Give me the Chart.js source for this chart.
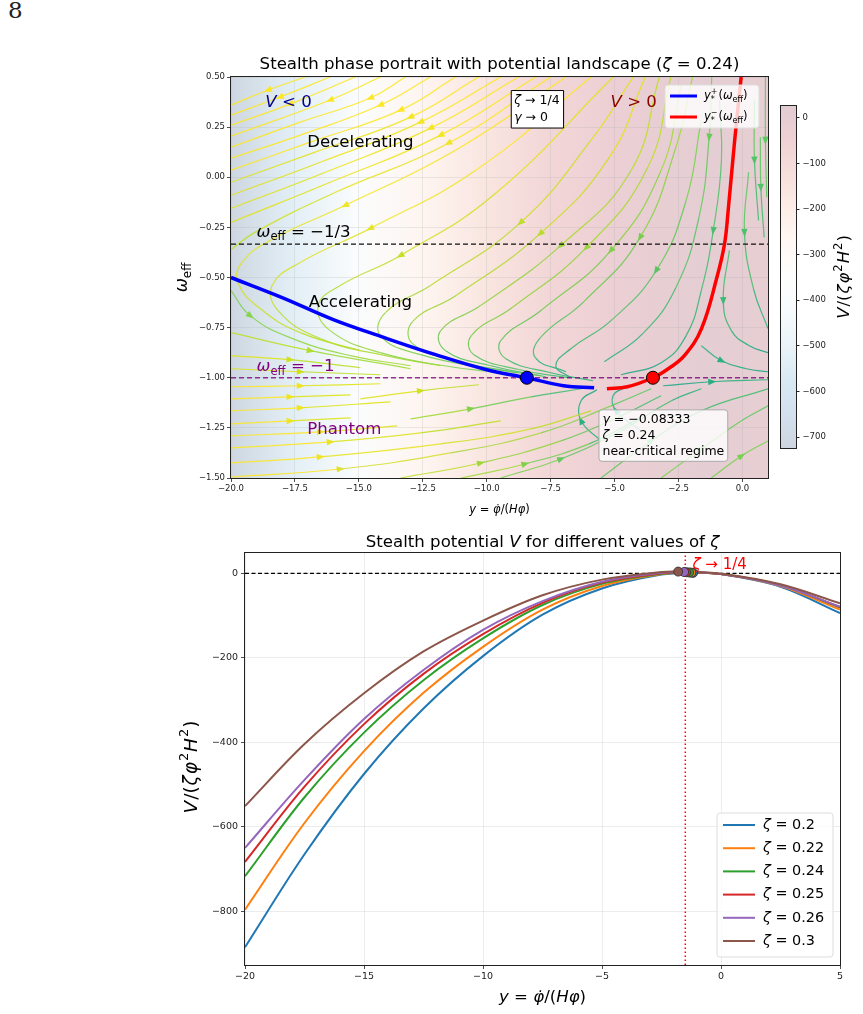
<!DOCTYPE html>
<html>
<head>
<meta charset="utf-8">
<script src="https://cdn.jsdelivr.net/npm/chart.js@4.4.1/dist/chart.umd.min.js"></script>
<style>
  body { margin: 0; width: 863px; height: 1014px; background: #fff; position: relative; overflow: hidden; }
  canvas { position: absolute; }
  #page { position: absolute; left: 8px; top: -3px; font: 23px "DejaVu Serif", "Liberation Serif", serif; color: #222; }
</style>
</head>
<body>
<div id="page">8</div>
<canvas id="phase" width="863" height="530" style="left:0;top:0"></canvas>
<canvas id="cbar" width="93" height="365" style="left:770px;top:95px"></canvas>
<canvas id="pot" width="863" height="484" style="left:0;top:530px"></canvas>
<script>
Chart.defaults.font.family = '"DejaVu Sans", Verdana, sans-serif'
Chart.defaults.color = '#222'

// ---- lower panel: V/(zeta phi^2 H^2)
const yGrid = [-20, -17.5, -15, -12.5, -10, -7.5, -5, -2.5, 0, 2.5, 5]
const zetas = [0.2, 0.22, 0.24, 0.25, 0.26, 0.3]
const V_020 = [-885, -665, -475, -320, -196, -98, -36, -3, -2, -32, -94]
const V_022 = [-796, -591, -421, -283, -174, -86, -30, -2, -2, -30, -86]
const V_024 = [-717, -530, -377, -253, -154, -75, -25, -1, -2, -28, -81]
const V_025 = [-683, -505, -357, -238, -144, -70, -22, 0, -2, -28, -80]
const V_026 = [-650, -489, -345, -229, -134, -66, -20, 1, -2, -29, -79]
const V_030 = [-551, -404, -284, -185, -112, -52, -15, 3, -1, -26, -71]
// maxima of each curve (the marked dots)
const peakY = [-1.17, -1.25, -1.34, -1.46, -1.55, -1.8]
const peakV = [1, 1.5, 2, 2.5, 3, 4]
const yCritical = -1.5
const potTicks = [-800, -600, -400, -200, 0]

// ---- upper panel
const blueY = [-20, -18, -16, -14, -12, -10, -8.43, -7, -5.8]
const blueW = [-0.5, -0.6, -0.71, -0.8, -0.885, -0.96, -1.0, -1.04, -1.05]
const redY = [-5.3, -4.5, -3.5, -2.9, -2.27, -1.6, -1.0, -0.7, -0.55, -0.31, -0.05]
const redW = [-1.055, -1.045, -1.0, -0.955, -0.89, -0.755, -0.5, -0.333, -0.155, 0.175, 0.5]
const fixedBlue = [-8.43, -1.0]
const fixedRed = [-3.5, -1.0]
const cbMin = -724, cbMax = 26
const cbTicks = [-700, -600, -500, -400, -300, -200, -100, 0]

// streamlines, [y, w_eff] in flow order
const upperArms = [
  [[-17.1, 0.5], [-18.55, 0.435], [-20, 0.36]],
  [[-16.12, 0.5], [-18.08, 0.4], [-20, 0.31]],
  [[-15.14, 0.5], [-17.69, 0.365], [-20, 0.26]],
  [[-14.16, 0.5], [-16.12, 0.385], [-20, 0.205]],
  [[-13.18, 0.5], [-14.55, 0.395], [-17.29, 0.275], [-20, 0.15]],
  [[-12.2, 0.5], [-14.16, 0.36], [-17.29, 0.21], [-20, 0.095]],
  [[-11.22, 0.5], [-13.37, 0.335], [-16.9, 0.175], [-20, 0.035]],
  [[-10.31, 0.5], [-12.98, 0.3], [-16.71, 0.125], [-20, -0.025]],
  [[-9.45, 0.5], [-12.59, 0.275], [-16.51, 0.075], [-20, -0.09]],
  [[-8.75, 0.5], [-12.2, 0.245], [-16.31, 0.025], [-20, -0.155]],
  [[-8.08, 0.5], [-11.8, 0.21], [-16.12, -0.025], [-20, -0.225]],
  [[-7.5, 0.5], [-11.5, 0.17], [-16.0, -0.08], [-19.0, -0.27], [-20, -0.36]]
]
const hairpins = [
  [[-6.9, 0.5], [-11.22, 0.135], [-15.53, -0.14], [-18.47, -0.315], [-19.57, -0.425], [-19.73, -0.525], [-18.86, -0.655], [-17.29, -0.775], [-14.94, -0.865]],
  [[-5.92, 0.5], [-10.43, 0.035], [-14.55, -0.255], [-17.29, -0.425], [-18.39, -0.54], [-18.16, -0.665], [-16.51, -0.805], [-13.76, -0.895], [-11.8, -0.94]],
  [[-5.06, 0.5], [-9.65, -0.08], [-13.37, -0.39], [-15.73, -0.54], [-16.59, -0.64], [-16.12, -0.765], [-14.16, -0.875], [-11.41, -0.945], [-9.45, -0.975]],
  [[-4.27, 0.5], [-5.92, 0.185], [-8.67, -0.225], [-12.2, -0.54], [-13.96, -0.675], [-14.16, -0.79], [-12.59, -0.885], [-9.84, -0.955], [-7.88, -0.99]],
  [[-3.8, 0.5], [-5.2, 0.1], [-7.9, -0.28], [-11.2, -0.59], [-12.9, -0.72], [-12.9, -0.83], [-11.2, -0.915], [-8.8, -0.975]],
  [[-3.25, 0.5], [-4.35, 0.035], [-7.1, -0.34], [-10.24, -0.64], [-11.8, -0.765], [-11.61, -0.865], [-9.84, -0.94], [-7.69, -0.995]],
  [[-2.8, 0.5], [-3.7, 0.05], [-6.1, -0.35], [-9.0, -0.65], [-10.6, -0.79], [-10.5, -0.885], [-8.7, -0.96], [-6.8, -1.0]],
  [[-2.39, 0.46], [-3.18, 0.035], [-5.14, -0.365], [-7.88, -0.665], [-9.45, -0.815], [-9.25, -0.905], [-7.49, -0.975], [-5.84, -1.015]],
  [[-1.95, 0.5], [-2.6, 0.15], [-4.0, -0.3], [-6.2, -0.62], [-7.9, -0.8], [-8.1, -0.9], [-6.9, -0.97]],
  [[-1.61, 0.285], [-2.2, -0.115], [-3.37, -0.465], [-5.14, -0.715], [-6.71, -0.855], [-7.3, -0.94], [-6.71, -1.0]]
]
const redSide = [
  [[-1.2, 0.5], [-1.3, 0.2], [-1.7, -0.2], [-2.6, -0.55], [-3.9, -0.78], [-5.4, -0.92]],
  [[-0.9, 0.385], [-0.82, 0.085], [-1.14, -0.265], [-1.61, -0.565], [-2.2, -0.79], [-3.18, -0.925], [-4.75, -0.985]],
  [[0.9, 0.5], [0.9, 0.185], [0.95, -0.1]],
  [[0.47, 0.385], [0.47, 0.085], [0.63, -0.215]],
  [[0.7, 0.2], [0.72, -0.05], [0.85, -0.3]],
  [[0.24, 0.025], [0.08, -0.275], [0.43, -0.555], [1.0, -0.755]],
  [[-0.51, -0.365], [-0.75, -0.615], [-0.43, -0.765], [0.27, -0.84], [1.0, -0.875]],
  [[-1.61, -0.84], [-0.82, -0.915], [0.16, -0.955], [1.0, -0.97]]
]
const leftArms = [
  [[-20, -0.565], [-19.25, -0.69], [-17.69, -0.8], [-15.33, -0.89], [-12.98, -0.94]],
  [[-20, -0.775], [-16.9, -0.865], [-12.98, -0.955]],
  [[-20, -0.89], [-17.69, -0.91], [-14.94, -0.95]],
  [[-20, -0.955], [-17.29, -0.97], [-14.16, -0.985]]
]
const phantomLines = [
  [[-20, -1.045], [-17.29, -1.04], [-14.16, -1.03]],
  [[-20, -1.105], [-17.69, -1.095], [-15.33, -1.085]],
  [[-20, -1.165], [-17.29, -1.15], [-13.76, -1.12]],
  [[-20, -1.23], [-17.69, -1.215], [-15.33, -1.2]],
  [[-20, -1.29], [-16.5, -1.27], [-13.5, -1.24]],
  [[-20, -1.35], [-16.12, -1.32], [-12.59, -1.275], [-9.45, -1.215]],
  [[-20, -1.425], [-16.51, -1.395], [-11.8, -1.33], [-8.27, -1.255], [-5.92, -1.165]],
  [[-20, -1.495], [-15.73, -1.455], [-11.41, -1.375], [-7.88, -1.275], [-5.14, -1.14], [-3.57, -1.055]],
  [[-14.94, -1.105], [-12.59, -1.065], [-10.31, -1.035]],
  [[-13.37, -1.5], [-10.24, -1.425], [-7.1, -1.315], [-4.75, -1.19], [-3.18, -1.09]],
  [[-12.98, -1.205], [-10.63, -1.155], [-8.27, -1.095], [-6.31, -1.055]],
  [[-11.0, -1.5], [-8.5, -1.43], [-6.0, -1.33], [-4.0, -1.2]],
  [[-9.45, -1.5], [-7.1, -1.405], [-4.75, -1.265], [-2.78, -1.115], [-1.61, -1.055]]
]
const lowerRight = [
  [[-5.53, -1.5], [-3.57, -1.315], [-1.61, -1.165], [1.0, -1.055]],
  [[-3.18, -1.5], [-1.61, -1.355], [-0.04, -1.215], [1.0, -1.14]],
  [[-1.22, -1.5], [-0.04, -1.39], [1.0, -1.315]],
  [[-3.1, -1.04], [-1.2, -1.02], [1.0, -1.01]],
  [[-3.96, -1.265], [-4.94, -1.165], [-5.06, -1.09], [-4.55, -1.045]],
  [[-5.53, -1.315], [-6.31, -1.215], [-6.31, -1.115], [-5.69, -1.06]]
]

// viridis samples used for the stream colours
const vir = { 100: '#fde725', 95: '#dfe318', 90: '#bddf26', 85: '#a0da39', 80: '#7ad151', 75: '#5ec962', 70: '#44bf70', 65: '#2fb47c', 60: '#22a884' }
const upperCols = [[100, 100], [100, 100], [100, 100], [100, 100], [100, 100], [100, 100], [100, 100], [100, 95], [100, 95], [100, 95], [100, 95], [100, 90]]
const hairCols = [[100, 90], [100, 85], [95, 80], [95, 75], [95, 75], [90, 70], [90, 70], [85, 65], [85, 65], [80, 60]]
const redSideCols = [[80, 65], [75, 60], [75, 75], [75, 70], [75, 70], [75, 65], [70, 60], [65, 60]]
const leftCols = [[80, 85], [90, 85], [95, 90], [95, 90]]
const phantomCols = [[100, 95], [100, 95], [100, 95], [100, 95], [100, 95], [100, 90], [100, 90], [100, 75], [95, 90], [90, 70], [85, 70], [85, 70], [80, 65]]
const lowerCols = [[75, 70], [80, 75], [80, 80], [60, 65], [65, 60], [65, 60]]

const rdbu = ['#053061', '#2166ac', '#4393c3', '#92c5de', '#d1e5f0', '#f7f7f7', '#fddbc7', '#f4a582', '#d6604d', '#b2182b', '#67001f']

function hexRgb(h) {
  const n = parseInt(h.slice(1), 16)
  return [n >> 16, (n >> 8) & 255, n & 255]
}
function mix(a, b, f, alpha = 0.9) {
  const p = hexRgb(a), q = hexRgb(b)
  return `rgba(${p.map((u, k) => Math.round(u + (q[k] - u) * f)).join(',')},${alpha})`
}
// RdBu_r at alpha 0.2 over white
function potColor(v) {
  let t = Math.min(1, Math.max(0, (v - cbMin) / (cbMax - cbMin))) * 10
  const i = Math.min(9, Math.floor(t)), f = t - i
  const a = hexRgb(rdbu[i]), b = hexRgb(rdbu[i + 1])
  const c = a.map((u, k) => Math.round(255 * 0.8 + 0.2 * (u + (b[k] - u) * f)))
  return `rgb(${c.join(',')})`
}
const minus = s => String(s).replace('-', '\u2212')

// small mathtext-like writer: italics, sub/superscripts, optional extra gap between parts
function richText(ctx, parts, x, y, size, color, align = 'left', rot = 0, gap = 0) {
  const font = p => `${p.it ? 'italic ' : ''}${(p.sub || p.sup) ? size * 0.7 : size}px "DejaVu Sans"`
  let w = 0
  parts.forEach(p => { ctx.font = font(p); if (!p.keep) w += ctx.measureText(p.t).width + gap })
  w -= gap
  ctx.save()
  ctx.translate(x, y)
  ctx.rotate(rot)
  let cx = align === 'center' ? -w / 2 : align === 'right' ? -w : 0
  ctx.fillStyle = color
  ctx.textBaseline = 'middle'
  parts.forEach(p => {
    ctx.font = font(p)
    const dy = p.sub ? size * 0.3 : p.sup ? -size * 0.38 : 0
    ctx.fillText(p.t, cx, dy)
    if (!p.keep) cx += ctx.measureText(p.t).width + gap
  })
  ctx.restore()
  return w
}
function textBox(ctx, lines, x, y, size, lineH, pad, fill, stroke, round) {
  let w = 0
  lines.forEach(l => {
    let lw = 0
    l.forEach(p => { ctx.font = `${p.it ? 'italic ' : ''}${size}px "DejaVu Sans"`; lw += ctx.measureText(p.t).width })
    w = Math.max(w, lw)
  })
  const bw = w + 2 * pad, bh = lines.length * lineH + pad
  ctx.save()
  ctx.beginPath()
  if (round) ctx.roundRect(x, y, bw, bh, 3); else ctx.rect(x + 0.5, y + 0.5, bw, bh)
  ctx.fillStyle = fill
  ctx.fill()
  ctx.lineWidth = 1
  ctx.strokeStyle = stroke
  ctx.stroke()
  ctx.restore()
  lines.forEach((l, i) => richText(ctx, l, x + pad, y + pad / 2 + lineH * (i + 0.5), size, '#000'))
}

// ---------------- upper panel datasets
const phaseSets = []
function addStreams(lines, cols) {
  lines.forEach((pts, i) => {
    const ca = vir[cols[i][0]], cb = vir[cols[i][1]]
    const n = pts.length
    const m = Math.max(1, Math.floor((n - 1) / 3))
    phaseSets.push({
      data: pts.map(([x, y]) => ({ x, y })),
      showLine: true, pointRadius: 0, borderWidth: 1.2, tension: 0.45,
      borderColor: mix(ca, cb, 0),
      segment: { borderColor: s => mix(ca, cb, s.p0DataIndex / Math.max(1, n - 2)) },
      arrowAt: m, arrowColor: mix(ca, cb, m / (n - 1), 1),
      order: 10
    })
  })
}
addStreams(upperArms, upperCols)
addStreams(hairpins, hairCols)
addStreams(redSide, redSideCols)
addStreams(leftArms, leftCols)
addStreams(phantomLines, phantomCols)
addStreams(lowerRight, lowerCols)

phaseSets.push(
  { data: [{ x: -20, y: -1 / 3 }, { x: 1, y: -1 / 3 }], showLine: true, pointRadius: 0, borderColor: '#111', borderWidth: 1.4, borderDash: [5, 3], order: 5 },
  { data: [{ x: -20, y: -1 }, { x: 1, y: -1 }], showLine: true, pointRadius: 0, borderColor: 'rgba(128,0,128,0.8)', borderWidth: 1.4, borderDash: [5, 3], order: 5 },
  { data: blueY.map((x, i) => ({ x, y: blueW[i] })), showLine: true, pointRadius: 0, borderColor: '#0000ff', borderWidth: 3.5, tension: 0.4, order: 2 },
  { data: redY.map((x, i) => ({ x, y: redW[i] })), showLine: true, pointRadius: 0, borderColor: '#ff0000', borderWidth: 3.5, tension: 0.4, order: 2 },
  { data: [{ x: fixedBlue[0], y: fixedBlue[1] }], pointRadius: 6.5, backgroundColor: '#0000ff', borderColor: '#000', borderWidth: 1, order: 0 },
  { data: [{ x: fixedRed[0], y: fixedRed[1] }], pointRadius: 6.5, backgroundColor: '#ff0000', borderColor: '#000', borderWidth: 1, order: 0 }
)

const phaseDecor = {
  id: 'phaseDecor',
  beforeDraw(chart) {
    const { ctx, chartArea: a, scales: { x } } = chart
    const g = ctx.createLinearGradient(a.left, 0, a.right, 0)
    const pts = yGrid.map((yv, i) => [yv, V_024[i]]).concat([[peakY[2], peakV[2]]]).sort((p, q) => p[0] - q[0])
    pts.forEach(([yv, v]) => {
      const t = (x.getPixelForValue(yv) - a.left) / (a.right - a.left)
      if (t >= 0 && t <= 1) g.addColorStop(t, potColor(v))
    })
    ctx.save()
    ctx.fillStyle = g
    ctx.fillRect(a.left, a.top, a.right - a.left, a.bottom - a.top)
    ctx.restore()
  },
  afterDatasetDraw(chart, { index, meta }) {
    const ds = chart.data.datasets[index]
    if (!ds.arrowAt) return
    const p = meta.data, m = ds.arrowAt
    const a = p[m - 1], b = p[m + 1], c = p[m]
    const ang = Math.atan2(b.y - a.y, b.x - a.x)
    const ctx = chart.ctx
    ctx.save()
    ctx.translate(c.x, c.y)
    ctx.rotate(ang)
    ctx.beginPath()
    ctx.moveTo(4.5, 0)
    ctx.lineTo(-3.5, 3.2)
    ctx.lineTo(-3.5, -3.2)
    ctx.closePath()
    ctx.fillStyle = ds.arrowColor
    ctx.fill()
    ctx.restore()
  },
  afterDatasetsDraw(chart) {
    const { ctx, chartArea: a, scales: { x, y } } = chart
    const X = v => x.getPixelForValue(v), Y = v => y.getPixelForValue(v)
    const fs = 16.6
    richText(ctx, [{ t: 'V', it: 1 }, { t: ' < 0' }], X(-17.75), Y(0.37), fs, '#00008b', 'center')
    richText(ctx, [{ t: 'V', it: 1 }, { t: ' > 0' }], X(-4.25), Y(0.37), fs, '#8b0000', 'center')
    richText(ctx, [{ t: 'Decelerating' }], X(-14.94), Y(0.17), fs, '#000', 'center')
    richText(ctx, [{ t: 'Accelerating' }], X(-14.94), Y(-0.625), fs, '#000', 'center')
    richText(ctx, [{ t: 'Phantom' }], X(-15.57), Y(-1.26), fs, '#800080', 'center')
    richText(ctx, [{ t: 'ω', it: 1 }, { t: 'eff', sub: 1 }, { t: ' = \u22121/3' }], X(-19.0), Y(-0.275), fs, '#000')
    richText(ctx, [{ t: 'ω', it: 1 }, { t: 'eff', sub: 1 }, { t: ' = \u22121' }], X(-19.0), Y(-0.945), fs, '#800080')

    textBox(ctx, [[{ t: 'ζ', it: 1 }, { t: ' \u2192 1/4' }], [{ t: 'γ', it: 1 }, { t: ' \u2192 0' }]],
      X(-9.06), Y(0.435), 12.5, 17, 3.5, '#fff', '#000', false)
    textBox(ctx, [[{ t: 'γ', it: 1 }, { t: ' = \u22120.08333' }], [{ t: 'ζ', it: 1 }, { t: ' = 0.24' }], [{ t: 'near-critical regime' }]],
      X(-5.61), Y(-1.16), 12.5, 16, 3.5, 'rgba(255,255,255,0.8)', '#aaa', true)

    // legend
    const lx = a.right - 103, ly = a.top + 8
    ctx.save()
    ctx.beginPath()
    ctx.roundRect(lx, ly, 94, 43, 3)
    ctx.fillStyle = 'rgba(255,255,255,0.8)'
    ctx.fill()
    ctx.strokeStyle = '#ddd'
    ctx.stroke()
    ;[['#0000ff', '+'], ['#ff0000', '\u2212']].forEach(([col, sg], i) => {
      const yy = ly + 11 + i * 21
      ctx.beginPath()
      ctx.moveTo(lx + 5, yy)
      ctx.lineTo(lx + 32, yy)
      ctx.strokeStyle = col
      ctx.lineWidth = 3
      ctx.stroke()
      richText(ctx, [{ t: 'y', it: 1 }, { t: sg, sup: 1, keep: 1 }, { t: '*', sub: 1 }, { t: ' (' }, { t: 'ω', it: 1 }, { t: 'eff', sub: 1 }, { t: ')' }],
        lx + 39, yy, 11.5, '#000')
    })
    ctx.restore()

    // frame, titles
    ctx.save()
    ctx.strokeStyle = '#222'
    ctx.lineWidth = 1
    ctx.strokeRect(Math.round(a.left) - 0.5, Math.round(a.top) - 0.5, Math.round(a.right - a.left) + 1, Math.round(a.bottom - a.top) + 1)
    ctx.restore()
    const cx = (a.left + a.right) / 2
    richText(ctx, [{ t: 'Stealth phase portrait with potential landscape (' }, { t: 'ζ', it: 1 }, { t: ' = 0.24)' }], cx, a.top - 12, 16.6, '#000', 'center')
    richText(ctx, [{ t: 'y', it: 1 }, { t: ' = ' }, { t: 'φ\u0307', it: 1 }, { t: '/(' }, { t: 'H', it: 1 }, { t: 'φ', it: 1 }, { t: ')' }], cx, a.bottom + 32, 11.5, '#000', 'center')
    richText(ctx, [{ t: 'ω', it: 1 }, { t: 'eff', sub: 1 }], a.left - 48, (a.top + a.bottom) / 2, 17, '#000', 'center', -Math.PI / 2)
  }
}

const gridStyle = { color: 'rgba(176,176,176,0.3)', tickColor: '#222', tickLength: 4, lineWidth: 0.8 }

new Chart(document.getElementById('phase'), {
  type: 'scatter',
  data: { datasets: phaseSets },
  options: {
    responsive: false, animation: false, events: [],
    layout: { padding: { left: 170, top: 77, right: 95, bottom: 0 } },
    plugins: { legend: { display: false }, tooltip: { enabled: false } },
    scales: {
      x: {
        min: -20, max: 1,
        ticks: { stepSize: 2.5, includeBounds: false, autoSkip: false, maxRotation: 0, font: { size: 8.5 }, padding: 2, callback: v => minus(v.toFixed(1)) },
        grid: gridStyle, border: { display: false },
        afterFit: s => { s.height = 52 }
      },
      y: {
        min: -1.5, max: 0.5,
        ticks: { stepSize: 0.25, autoSkip: false, font: { size: 8.5 }, padding: 2, callback: v => minus(v.toFixed(2)) },
        grid: gridStyle, border: { display: false },
        afterFit: s => { s.width = 61 }
      }
    }
  },
  plugins: [phaseDecor]
})

// ---------------- colour bar
function cbGradient(chart) {
  const { ctx, chartArea, scales } = chart
  if (!chartArea) return '#fff'
  const y = scales.y
  const g = ctx.createLinearGradient(0, y.getPixelForValue(cbMin), 0, y.getPixelForValue(cbMax))
  for (let k = 0; k <= 20; k++) g.addColorStop(k / 20, potColor(cbMin + (cbMax - cbMin) * k / 20))
  return g
}
new Chart(document.getElementById('cbar'), {
  type: 'bar',
  data: { labels: [''], datasets: [{ data: [[cbMin, cbMax]], backgroundColor: c => cbGradient(c.chart), barPercentage: 1, categoryPercentage: 1, borderWidth: 0 }] },
  options: {
    responsive: false, animation: false, events: [],
    layout: { padding: { left: 11, top: 11, bottom: 12, right: 0 } },
    plugins: { legend: { display: false }, tooltip: { enabled: false } },
    scales: {
      x: { display: false },
      y: {
        position: 'right', min: cbMin, max: cbMax,
        afterBuildTicks: s => { s.ticks = cbTicks.map(value => ({ value })) },
        ticks: { font: { size: 8.5 }, padding: 3, callback: v => minus(v) },
        grid: { drawOnChartArea: false, tickColor: '#222', tickLength: 3.5 }, border: { display: false },
        afterFit: s => { s.width = 67 }
      }
    }
  },
  plugins: [{
    id: 'cbDecor',
    afterDraw(chart) {
      const { ctx, chartArea: a } = chart
      ctx.save()
      ctx.strokeStyle = '#222'
      ctx.lineWidth = 1
      ctx.strokeRect(Math.round(a.left) - 0.5, Math.round(a.top) - 0.5, Math.round(a.right - a.left) + 1, Math.round(a.bottom - a.top) + 1)
      ctx.restore()
      richText(ctx, [{ t: 'V', it: 1 }, { t: '/(' }, { t: 'ζ', it: 1 }, { t: 'φ', it: 1 }, { t: '2', sup: 1 }, { t: 'H', it: 1 }, { t: '2', sup: 1 }, { t: ')' }],
        a.right + 49, (a.top + a.bottom) / 2, 16.5, '#000', 'center', -Math.PI / 2, 1)
    }
  }]
})

// ---------------- lower panel
const zetaSeries = [V_020, V_022, V_024, V_025, V_026, V_030]
const zetaColors = ['#1f77b4', '#ff7f0e', '#2ca02c', '#d62728', '#9467bd', '#8c564b']
const potSets = [
  { data: [{ x: -20, y: 0 }, { x: 5, y: 0 }], showLine: true, pointRadius: 0, borderColor: '#000', borderWidth: 1.2, borderDash: [4, 2.5], order: 20 },
  { data: [{ x: yCritical, y: -927 }, { x: yCritical, y: 48 }], showLine: true, pointRadius: 0, borderColor: '#ff0000', borderWidth: 1.5, borderDash: [1.5, 2.5], order: 19 }
]
zetaSeries.forEach((vals, i) => {
  const pts = yGrid.map((x, k) => ({ x, y: vals[k] }))
  pts.push({ x: peakY[i], y: peakV[i] })
  pts.sort((p, q) => p.x - q.x)
  potSets.push({ label: String(zetas[i]), data: pts, showLine: true, pointRadius: 0, borderColor: zetaColors[i], borderWidth: 2, tension: 0.35, order: 15 - i })
})
zetaSeries.forEach((vals, i) => {
  potSets.push({ data: [{ x: peakY[i], y: peakV[i] }], pointRadius: 4.5, backgroundColor: zetaColors[i], borderColor: '#333', borderWidth: 0.9, order: -i })
})

const potDecor = {
  id: 'potDecor',
  afterDatasetsDraw(chart) {
    const { ctx, chartArea: a, scales: { x, y } } = chart
    richText(ctx, [{ t: 'ζ', it: 1 }, { t: ' \u2192 1/4' }], x.getPixelForValue(-1.2), y.getPixelForValue(20), 15, '#ff0000')
    // legend
    const bw = 116, bh = 144
    const lx = a.right - 7 - bw, ly = a.bottom - 8 - bh
    ctx.save()
    ctx.beginPath()
    ctx.roundRect(lx, ly, bw, bh, 3)
    ctx.fillStyle = 'rgba(255,255,255,0.8)'
    ctx.fill()
    ctx.strokeStyle = '#ddd'
    ctx.lineWidth = 1
    ctx.stroke()
    zetas.forEach((z, i) => {
      const yy = ly + 12 + i * 23.2
      ctx.beginPath()
      ctx.moveTo(lx + 6, yy)
      ctx.lineTo(lx + 38, yy)
      ctx.strokeStyle = zetaColors[i]
      ctx.lineWidth = 2
      ctx.stroke()
      richText(ctx, [{ t: 'ζ', it: 1 }, { t: ' = ' + z }], lx + 46, yy, 14.4, '#000')
    })
    ctx.restore()
    ctx.save()
    ctx.strokeStyle = '#222'
    ctx.lineWidth = 1
    ctx.strokeRect(Math.round(a.left) - 0.5, Math.round(a.top) - 0.5, Math.round(a.right - a.left) + 1, Math.round(a.bottom - a.top) + 1)
    ctx.restore()
    const cx = (a.left + a.right) / 2
    richText(ctx, [{ t: 'Stealth potential ' }, { t: 'V', it: 1 }, { t: ' for different values of ' }, { t: 'ζ', it: 1 }], cx, a.top - 10, 16.6, '#000', 'center')
    richText(ctx, [{ t: 'y', it: 1 }, { t: ' = ' }, { t: 'φ\u0307', it: 1 }, { t: '/(' }, { t: 'H', it: 1 }, { t: 'φ', it: 1 }, { t: ')' }], cx, a.bottom + 33, 16.6, '#000', 'center')
    richText(ctx, [{ t: 'V', it: 1 }, { t: '/(' }, { t: 'ζ', it: 1 }, { t: 'φ', it: 1 }, { t: '2', sup: 1 }, { t: 'H', it: 1 }, { t: '2', sup: 1 }, { t: ')' }],
      a.left - 53, (a.top + a.bottom) / 2 + 8, 18.5, '#000', 'center', -Math.PI / 2, 1)
  }
}

new Chart(document.getElementById('pot'), {
  type: 'scatter',
  data: { datasets: potSets },
  options: {
    responsive: false, animation: false, events: [],
    layout: { padding: { left: 180, top: 23, right: 23, bottom: 0 } },
    plugins: { legend: { display: false }, tooltip: { enabled: false } },
    scales: {
      x: {
        min: -20, max: 5,
        ticks: { stepSize: 5, autoSkip: false, maxRotation: 0, font: { size: 9.5 }, padding: 2, callback: v => minus(v) },
        grid: gridStyle, border: { display: false },
        afterFit: s => { s.height = 49 }
      },
      y: {
        min: -927, max: 48,
        afterBuildTicks: s => { s.ticks = potTicks.map(value => ({ value })) },
        ticks: { font: { size: 9.5 }, padding: 3, callback: v => minus(v) },
        grid: gridStyle, border: { display: false },
        afterFit: s => { s.width = 65 }
      }
    }
  },
  plugins: [potDecor]
})
</script>
</body>
</html>
